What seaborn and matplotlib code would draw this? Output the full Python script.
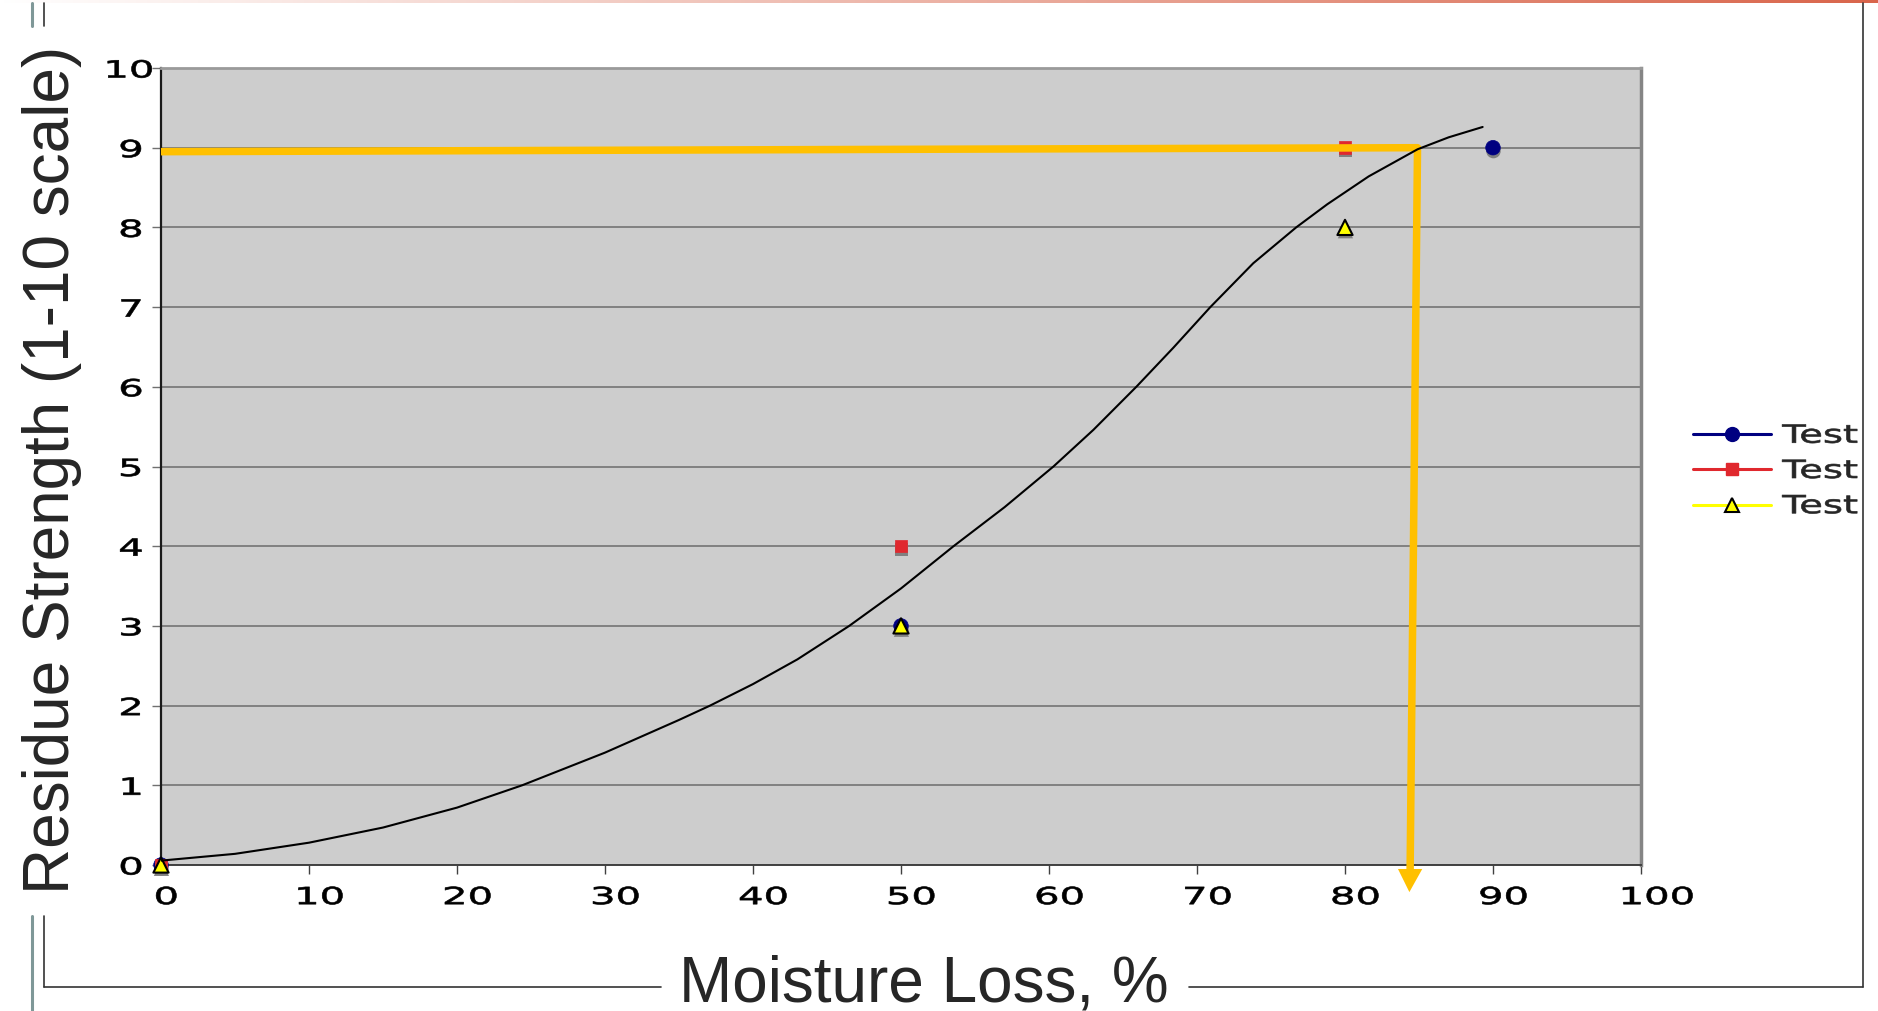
import numpy as np
import pandas as pd
import matplotlib
matplotlib.use("Agg")
import matplotlib.pyplot as plt
import matplotlib.patheffects as pe
from matplotlib.transforms import Affine2D
from matplotlib.lines import Line2D
import seaborn as sns

# ---- data -------------------------------------------------------------
test_a_x = [0, 50, 90]
test_a_y = [0, 3, 9]
test_b_x = [0, 50, 80]
test_b_y = [0, 4, 9]
test_c_x = [0, 50, 80]
test_c_y = [0, 3, 8]
series_labels = ["Test", "Test", "Test"]

# fitted trend curve
trend_x = [0, 5, 10, 15, 20, 24.4, 30, 35, 37.1, 40, 43, 46.5, 50, 53.55, 57,
           60.3, 63, 65.9, 68.4, 70.9, 73.8, 76.7, 78.8, 81.6, 84.9, 87, 89.3]
trend_y = [0.055, 0.14, 0.28, 0.47, 0.72, 1.0, 1.41, 1.82, 2.0, 2.27, 2.58, 3.0, 3.47, 4.0, 4.49,
           5.0, 5.46, 6.0, 6.49, 7.0, 7.55, 8.0, 8.29, 8.64, 8.98, 9.13, 9.26]

# read-off guide: across at strength 9, down to the moisture loss
guide_x = [0, 84.9, 84.4]
guide_y = [8.95, 9.0, -0.05]
guide_tip = (84.35, -0.34)

x_ticks = list(range(0, 101, 10))
y_ticks = list(range(0, 11))

# ---- style ------------------------------------------------------------
sns.set_style("white")
plt.rcParams["font.family"] = ["DejaVu Sans"]

W, H = 1878, 1012
fig = plt.figure(figsize=(W / 100, H / 100), dpi=100)
fig.patch.set_facecolor("white")


class HStretch(pe.AbstractPathEffect):
    """Draw text paths widened horizontally about their left baseline."""

    def __init__(self, sx, stroke=0.0):
        super().__init__()
        self._sx = sx
        self._stroke = stroke

    def draw_path(self, renderer, gc, tpath, affine, rgbFace=None):
        gc0 = renderer.new_gc()
        gc0.copy_properties(gc)
        if self._stroke and rgbFace is not None:
            gc0.set_linewidth(self._stroke)
            gc0.set_foreground(rgbFace)
        renderer.draw_path(gc0, tpath, Affine2D().scale(self._sx, 1.0) + affine, rgbFace)
        gc0.restore()


ax = fig.add_axes([161 / W, 1 - 866 / H, (1641 - 161) / W, (866 - 69) / H])
ax.set_facecolor("#cdcdcd")
ax.set_xlim(0, 100)
ax.set_ylim(0, 10)
ax.set_xticks(x_ticks, [str(v) for v in x_ticks])
ax.set_yticks(y_ticks, [str(v) for v in y_ticks])
ax.yaxis.grid(True, color="#6c6c6c", lw=1.1)
ax.xaxis.grid(False)
ax.set_axisbelow(True)

ax.tick_params(axis="x", direction="out", length=6.5, width=1, color="#404040",
               labelsize=17, labelcolor="black", pad=8, bottom=True)
ax.tick_params(axis="y", direction="out", length=6.5, width=1, color="#707070",
               labelsize=17, labelcolor="black", pad=13.5, left=True)
for t in ax.xaxis.get_major_ticks() + ax.yaxis.get_major_ticks():
    t.label1.set_path_effects([HStretch(1.7, stroke=0.45)])

ax.spines["left"].set_color("#1a1a1a")
ax.spines["left"].set_linewidth(1.6)
ax.spines["bottom"].set_color("#404040")
ax.spines["bottom"].set_linewidth(1.4)
ax.spines["top"].set_color("#9a9a9a")
ax.spines["top"].set_linewidth(2)
ax.spines["right"].set_color("#858585")
ax.spines["right"].set_linewidth(2.5)

shadow = [pe.SimplePatchShadow(offset=(0.3, -2.4), shadow_rgbFace="#808080", alpha=1.0), pe.Normal()]

df_a = pd.DataFrame({"x": test_a_x, "y": test_a_y})
df_b = pd.DataFrame({"x": test_b_x, "y": test_b_y})
df_c = pd.DataFrame({"x": test_c_x, "y": test_c_y})

sns.scatterplot(data=df_a, x="x", y="y", ax=ax, marker="o", s=110, color="#000080",
                edgecolor="#000080", linewidth=0.5, clip_on=False, zorder=3,
                path_effects=shadow)
sns.scatterplot(data=df_b, x="x", y="y", ax=ax, marker="s", s=80, color="#e0282e",
                edgecolor="#e0282e", linewidth=0.5, clip_on=False, zorder=3.1,
                path_effects=shadow)
sns.scatterplot(data=df_c, x="x", y="y", ax=ax, marker="^", s=120, color="#ffff00",
                edgecolor="black", linewidth=1.5, clip_on=False, zorder=3.2,
                path_effects=shadow)

# guide line with arrow head
ax.plot(guide_x, guide_y, color="#ffc000", lw=5.4, solid_joinstyle="round",
        solid_capstyle="butt", clip_on=False, zorder=4)
half_w = 0.82
ax.fill([guide_x[2] - half_w, guide_x[2] + half_w, guide_tip[0]],
        [guide_y[2], guide_y[2], guide_tip[1]], color="#ffc000", lw=0,
        clip_on=False, zorder=4)

# trend curve
df_t = pd.DataFrame({"x": trend_x, "y": trend_y})
sns.lineplot(data=df_t, x="x", y="y", ax=ax, color="black", lw=1.5, zorder=5, sort=False,
             solid_joinstyle="round")

ax.set_xlabel("")
ax.set_ylabel("")

# axis titles
fig.text(52 / W, 1 - 470 / H, "Residue Strength (1-10 scale)", rotation=90,
         ha="center", va="center", fontsize=46, family="Liberation Sans")
fig.text(924 / W, 1 - 1002 / H, "Moisture Loss, %", ha="center", va="baseline",
         fontsize=46, family="Liberation Sans")

# legend
handles = [
    Line2D([], [], color="#000080", lw=2.2, marker="o", markersize=10,
           markerfacecolor="#000080", markeredgecolor="#000080"),
    Line2D([], [], color="#e0282e", lw=2.2, marker="s", markersize=8.6,
           markerfacecolor="#e0282e", markeredgecolor="#e0282e"),
    Line2D([], [], color="#ffff00", lw=2.2, marker="^", markersize=10,
           markerfacecolor="#ffff00", markeredgecolor="black", markeredgewidth=1.5),
]
leg = fig.legend(handles, series_labels, loc="center left",
                 bbox_to_anchor=(1693 / W, 1 - 472 / H), frameon=False,
                 fontsize=18, handlelength=3.12, handletextpad=0.45,
                 labelspacing=0.45, borderpad=0, borderaxespad=0)
for t in leg.get_texts():
    t.set_path_effects([HStretch(1.54, stroke=0.45)])

# page frame lines
dark = "#333333"
teal = "#7f9898"
def fline(x0, y0, x1, y1, color, lw):
    fig.add_artist(Line2D([x0 / W, x1 / W], [1 - y0 / H, 1 - y1 / H],
                          color=color, lw=lw, transform=fig.transFigure))

fline(1863, 4, 1863, 988, dark, 1.2)
fline(44, 988, 661, 988, dark, 1.2)
fline(1189, 988, 1863, 988, dark, 1.2)
fline(44, 917, 44, 988, dark, 1.2)
fline(44, 4, 44, 27, dark, 1.2)
fline(32, 4, 32, 27, teal, 2.2)
fline(32, 917, 32, 1012, teal, 2.2)

# top accent bar
bar = fig.add_axes([0, 1 - 4 / H, 1, 4 / H])
grad = np.linspace(0, 1, 512)
c0 = np.array([1.0, 1.0, 1.0])
c1 = np.array([217, 101, 75]) / 255
img = c0[None, :] + grad[:, None] * (c1 - c0)[None, :]
bar.imshow(img[None, :, :], aspect="auto", extent=(0, 1, 0, 1))
bar.set_axis_off()

fig.savefig("out.png", dpi=100, facecolor="white")
